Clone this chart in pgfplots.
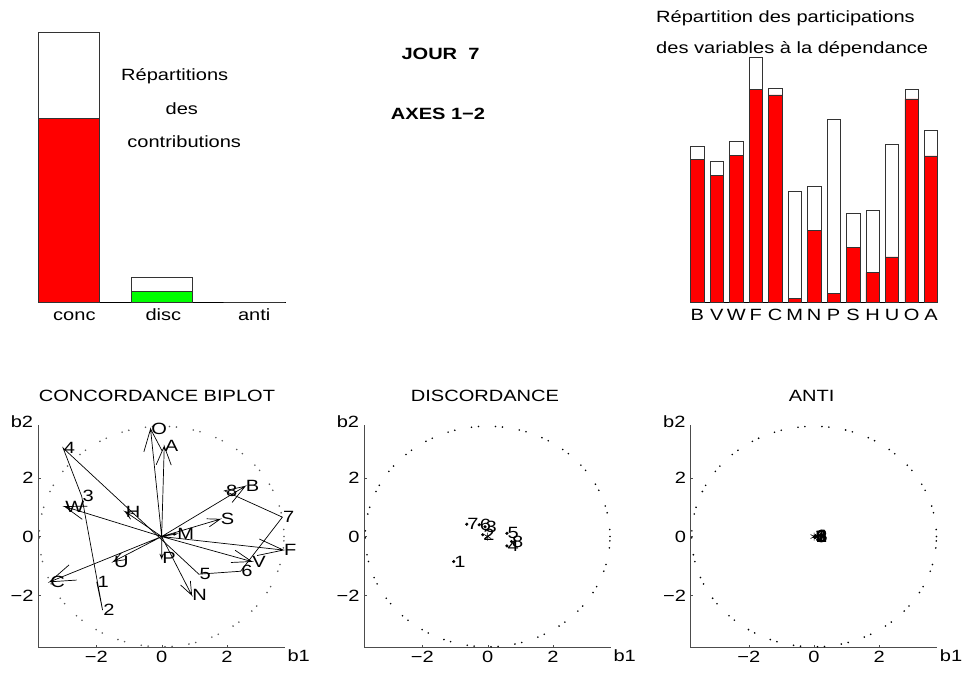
\documentclass[border=0pt]{standalone}
\usepackage{fontspec}
\setmainfont{Liberation Sans}[FakeStretch=1.23]
\usepackage{pgfplots}
\pgfplotsset{compat=1.18}
\definecolor{mred}{RGB}{255,0,0}
\definecolor{mgreen}{RGB}{0,255,0}
\tikzset{circ/.style={line width=1.8pt, line cap=round, dash pattern=on 0pt off 7pt on 0pt off 17pt}}
\begin{document}
\fontsize{16.3}{19.5}\selectfont
\begin{tikzpicture}[x=1pt,y=1pt]
\useasboundingbox (0pt,0pt) rectangle (967pt,674pt);
\pgfplotsset{
  barax/.style={scale only axis, axis x line=bottom, axis y line=none,
    axis line style={-, line width=0.7pt}, ymin=0, clip=false,
    major tick length=0pt, ytick=\empty,
    xticklabel style={text height=11.7pt, inner sep=6.6pt}},
  bip/.style={scale only axis, width=246.7pt, height=222.3pt,
    xmin=-3.78, xmax=3.78, ymin=-3.78, ymax=3.78,
    axis x line=bottom, axis y line=left,
    axis line style={-, line width=0.7pt, black!70},
    tick align=inside, major tick length=2.5pt, tick style={black!70},
    xtick={-2,0,2}, ytick={-2,0,2},
    xticklabels={−2,0,2}, yticklabels={−2,0,2},
    xticklabel style={text height=11.7pt, inner sep=2.5pt},
    yticklabel style={inner sep=4.5pt}, clip=false},
  bstyle/.style={ybar, bar width=#1, bar shift=0pt, draw=black!80, line width=0.6pt},
  lab/.style={nodes near coords, point meta=explicit symbolic,
    every node near coord/.append style={anchor=west, inner sep=0.5pt, black}},
}
% ---------------- top left bars
\begin{axis}[barax, at={(38.3pt,371.7pt)}, anchor=south west, width=247.4pt, height=270pt,
  xmin=0.671, xmax=3.34, ymax=91.6, xtick={1.06,2.02,3}, xticklabels={conc,disc,anti}]
\addplot[bstyle=0.658, fill=white] coordinates {(1,91.6) (2,8.4) (3,0)};
\addplot[bstyle=0.658, fill=mred] coordinates {(1,62.4)};
\addplot[bstyle=0.658, fill=mgreen] coordinates {(2,3.6)};
\end{axis}
\node[anchor=base] at (174.7pt,593pt) {Répartitions};
\node[anchor=base] at (181.8pt,559.7pt) {des};
\node[anchor=base] at (184.2pt,526.3pt) {contributions};
% ---------------- centre titles
\node[anchor=base, font=\bfseries] at (440.5pt,614.7pt) {JOUR\ \ 7};
\node[anchor=base, font=\bfseries] at (438pt,554.7pt) {AXES 1−2};
% ---------------- top right bars
\begin{axis}[barax, at={(690.7pt,371.7pt)}, anchor=south west, width=247pt, height=245pt,
  xmin=0.661, xmax=13.34, ymax=245, xtick={1,...,13},
  xticklabels={B,V,W,F,C,M,N,P,S,H,U,O,A}]
\addplot[bstyle=0.683, fill=white] coordinates {(1,155.6)(2,140.6)(3,161)(4,245)(5,214)(6,110.6)(7,115.6)(8,183)(9,88.6)(10,91.6)(11,158)(12,213)(13,172.3)};
\addplot[bstyle=0.683, fill=mred] coordinates {(1,143)(2,126.6)(3,146.6)(4,213)(5,207.3)(6,4)(7,71.6)(8,9)(9,54.6)(10,30)(11,45.3)(12,203.3)(13,146.3)};
\end{axis}
\node[anchor=base west, inner sep=0pt] at (656pt,651.3pt) {Répartition des participations};
\node[anchor=base west, inner sep=0pt] at (656pt,620.5pt) {des variables à la dépendance};
% ---------------- concordance biplot
\begin{axis}[bip, at={(38.3pt,26.3pt)}, anchor=south west]
\draw[circ, black!65] (axis cs:0,0) ellipse [x radius=3.75, y radius=3.75];
\addplot[black, line width=0.7pt, unbounded coords=jump] coordinates {
(0,0)(2.56,1.71)(2.16,1.16)(2.56,1.71)(1.90,1.55)(nan,nan)
(0,0)(1.79,0.59)(1.464,0.333)(1.79,0.59)(1.376,0.603)(nan,nan)
(0,0)(0.46,0.09)(0.372,0.037)(0.46,0.09)(0.358,0.106)(nan,nan)
(0,0)(3.73,-0.46)(2.924,-0.646)(3.73,-0.46)(2.994,-0.084)(nan,nan)
(0,0)(2.76,-0.85)(2.125,-0.882)(2.76,-0.85)(2.253,-0.467)(nan,nan)
(0,0)(0.92,-1.99)(0.580,-1.648)(0.92,-1.99)(0.880,-1.509)(nan,nan)
(0,0)(0,-0.74)(-0.056,-0.587)(0,-0.74)(0.056,-0.587)(nan,nan)
(0,0)(-1.48,-0.85)(-1.238,-0.563)(-1.48,-0.85)(-1.110,-0.786)(nan,nan)
(0,0)(-3.43,-1.54)(-2.837,-0.964)(-3.43,-1.54)(-2.605,-1.480)(nan,nan)
(0,0)(-2.97,1.02)(-2.279,1.033)(-2.97,1.02)(-2.433,0.586)(nan,nan)
(0,0)(-1.12,0.85)(-0.825,0.759)(-1.12,0.85)(-0.952,0.590)(nan,nan)
(0,0)(-0.34,3.66)(0.006,2.929)(-0.34,3.66)(-0.545,2.878)(nan,nan)
(0,0)(0.08,3.07)(0.294,2.429)(0.08,3.07)(-0.168,2.441)
};
\addplot[draw=none, mark=none, lab] table[meta=lab] {
x y lab
2.56 1.71 B
2.76 -0.85 V
-2.97 1.02 W
3.73 -0.46 F
-3.43 -1.54 C
0.46 0.09 M
0.92 -1.99 N
0 -0.74 P
1.79 0.59 S
-1.12 0.85 H
-1.48 -0.85 U
-0.34 3.66 O
0.08 3.07 A
};
\addplot[black, line width=0.7pt, lab] table[meta=lab] {
x y lab
-1.99 -1.54 1
-1.81 -2.50 2
-2.45 1.37 3
-3.02 3.01 4
1.14 -1.28 5
2.42 -1.18 6
3.70 0.66 7
1.95 1.54 8
};
\node[anchor=west, inner sep=0pt] at (rel axis cs:1,0) [xshift=2.3pt, yshift=-8.3pt] {b1};
\node[anchor=east, inner sep=0pt] at (rel axis cs:0,1) [xshift=-5pt, yshift=3.7pt] {b2};
\end{axis}
\node[anchor=base] at (157pt,272.3pt) {CONCORDANCE BIPLOT};
% ---------------- discordance
\begin{axis}[bip, at={(364.3pt,26.3pt)}, anchor=south west]
\draw[circ, black] (axis cs:0,0) ellipse [x radius=3.75, y radius=3.75];
\addplot[only marks, mark=asterisk, mark size=4pt, black, line width=0.6pt] coordinates {(0,0)};
\addplot[only marks, mark=*, mark size=1.4pt, black, lab] table[meta=lab] {
x y lab
-1.04 -0.85 1
-0.15 0.06 2
-0.08 0.33 3
0.59 -0.32 4
0.59 0.11 5
-0.26 0.40 6
-0.64 0.42 7
0.73 -0.17 8
};
\node[anchor=west, inner sep=0pt] at (rel axis cs:1,0) [xshift=2.3pt, yshift=-8.3pt] {b1};
\node[anchor=east, inner sep=0pt] at (rel axis cs:0,1) [xshift=-5pt, yshift=3.7pt] {b2};
\end{axis}
\node[anchor=base] at (485pt,272.3pt) {DISCORDANCE};
% ---------------- anti
\begin{axis}[bip, at={(690.7pt,26.3pt)}, anchor=south west]
\draw[circ, black] (axis cs:0,0) ellipse [x radius=3.75, y radius=3.75];
\addplot[only marks, mark=asterisk, mark size=4pt, black, line width=0.6pt] coordinates {(0,0)};
\addplot[only marks, mark=*, mark size=1.4pt, black, lab] table[meta=lab] {
x y lab
0.03 0.02 1
0.04 -0.01 2
0.02 0.00 3
0.05 0.03 4
0.03 -0.03 5
0.04 0.01 6
0.02 -0.02 7
0.05 0.00 8
};
\node[anchor=west, inner sep=0pt] at (rel axis cs:1,0) [xshift=2.3pt, yshift=-8.3pt] {b1};
\node[anchor=east, inner sep=0pt] at (rel axis cs:0,1) [xshift=-5pt, yshift=3.7pt] {b2};
\end{axis}
\node[anchor=base] at (811.7pt,272.3pt) {ANTI};
\end{tikzpicture}
\end{document}
